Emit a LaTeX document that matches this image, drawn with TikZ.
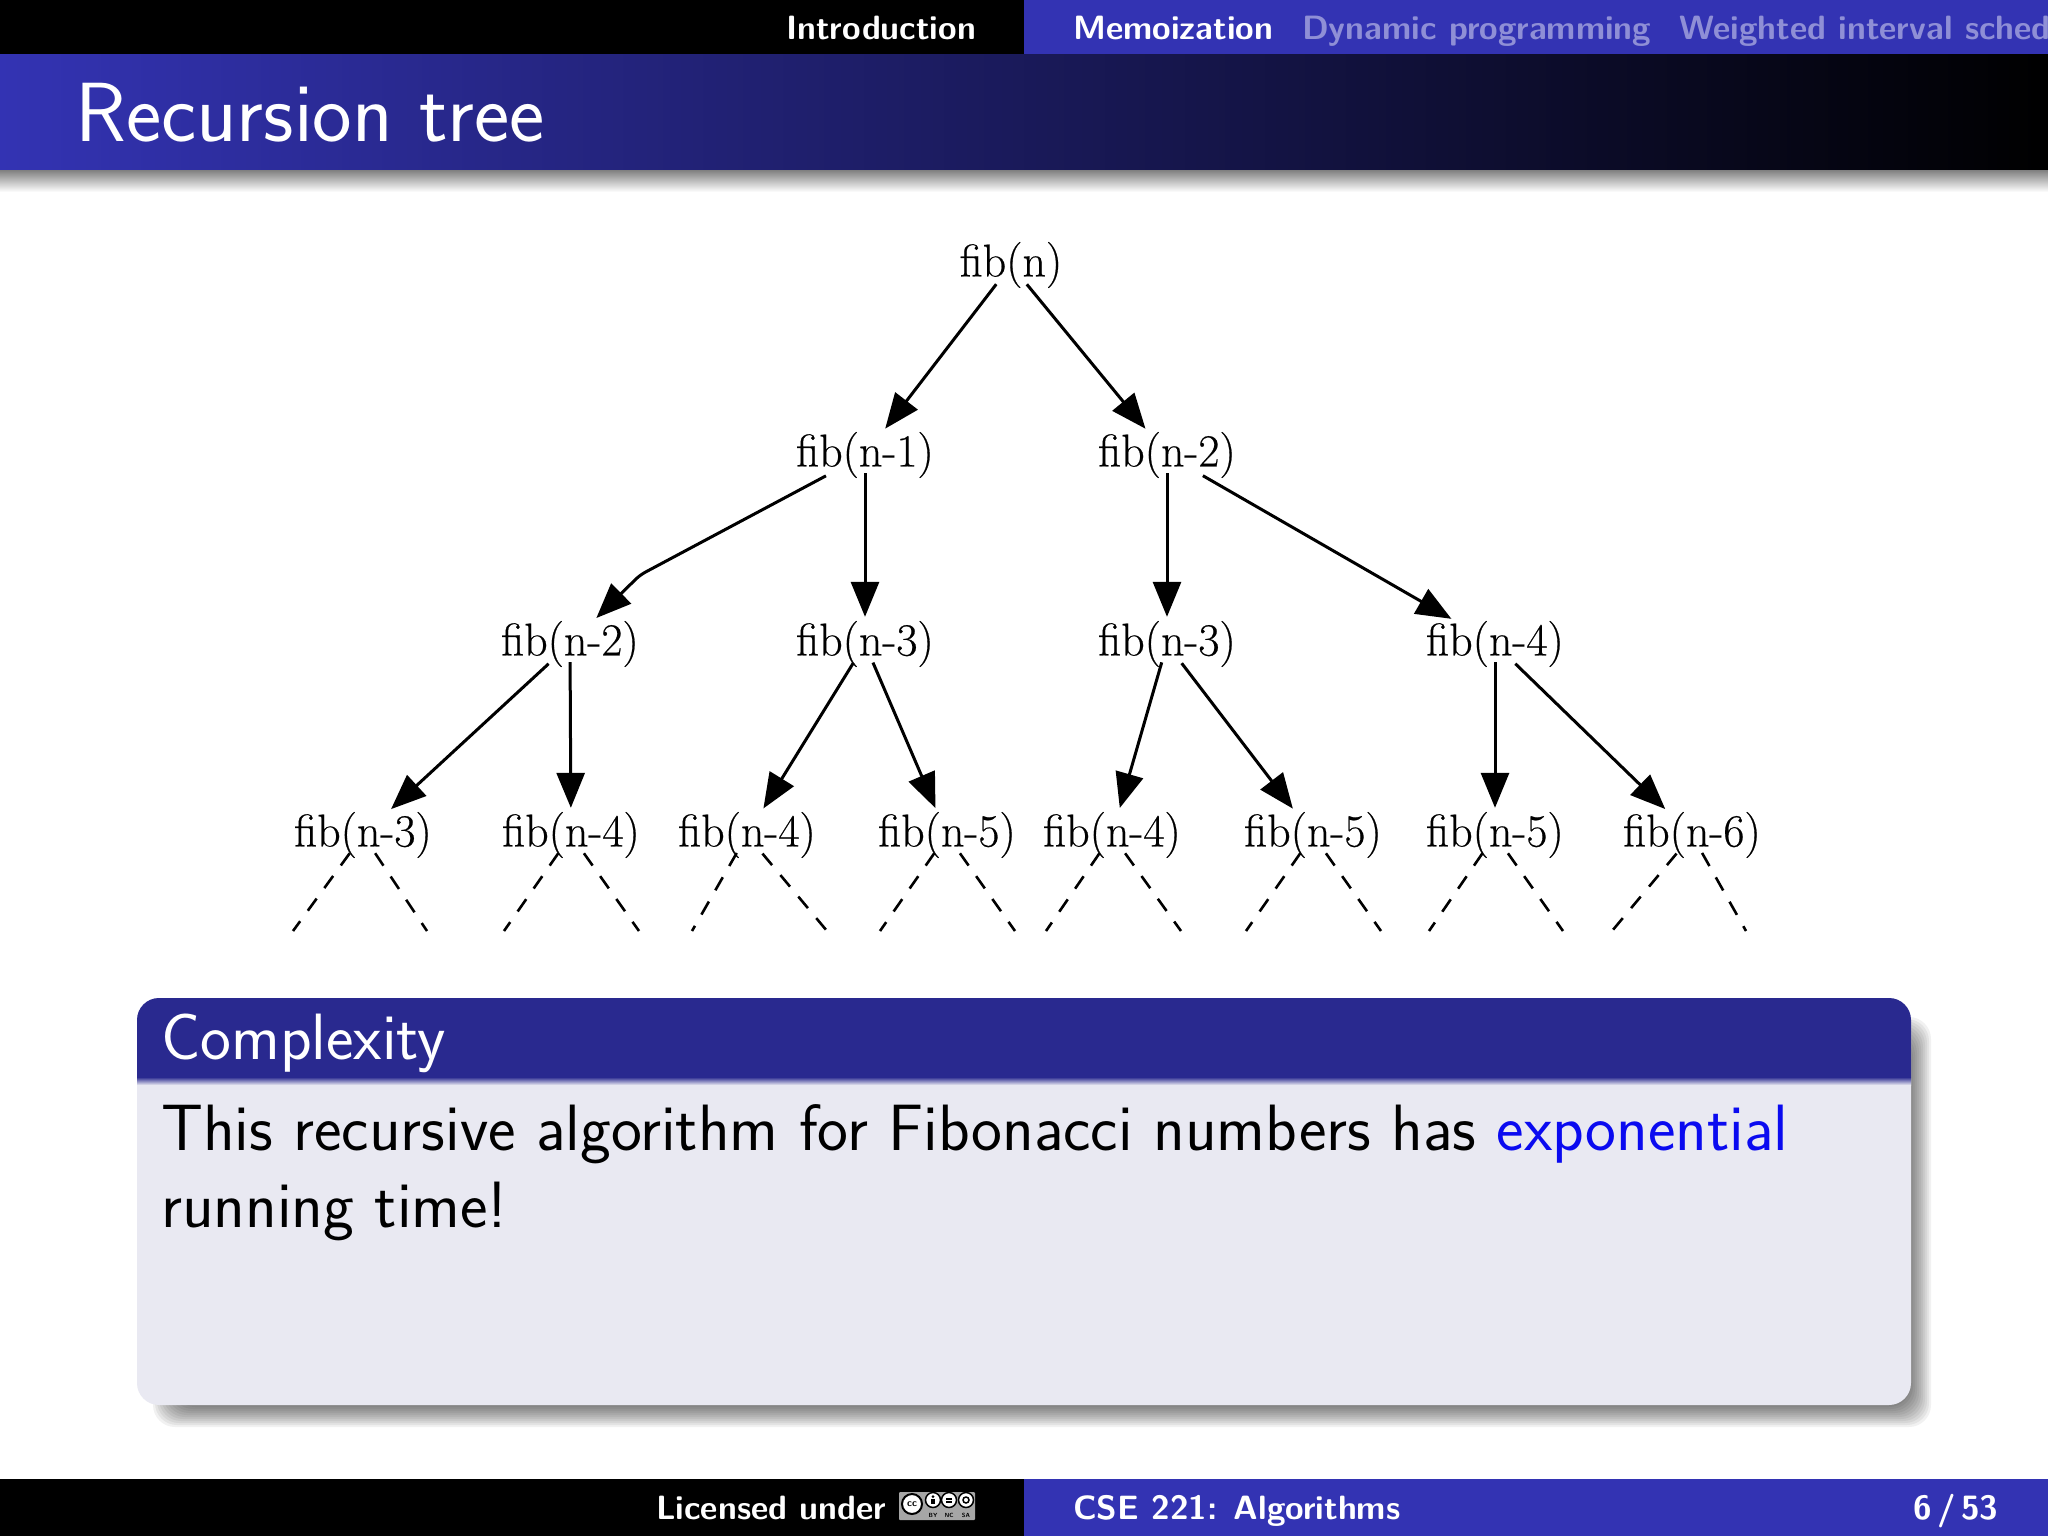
\documentclass[tikz,border=0pt]{standalone}
\usepackage{fontspec}
\usepackage{tikz}
\usepackage{xcolor}
\usetikzlibrary{
    arrows.meta,
    calc
}
\setmainfont{Latin Modern Roman}
\setsansfont{Latin Modern Sans}
\newfontfamily\fibfont[FakeBold=0.45]{Latin Modern Roman}
\definecolor{slideblue}{HTML}{3333B3}
\definecolor{blockblue}{HTML}{29298F}
\definecolor{blockbody}{HTML}{E9E9F2}
\definecolor{navdim}{HTML}{8F8FD6}
\definecolor{linkblue}{HTML}{0A0AF0}
\tikzset{
    fibnode/.style={inner sep=0pt, minimum width=136pt, minimum height=40pt, font=\fibfont\fontsize{46}{46}\selectfont},
    calltip/.style={line width=3pt, -{Triangle[length=35pt, width=28pt]}, shorten >=4pt, shorten <=-5pt},
    stub/.style={line width=2.6pt, dash pattern=on 15pt off 13pt, shorten <=-6pt},
    navtext/.style={inner sep=0pt, anchor=base west, text=white, font=\sffamily\bfseries\fontsize{33.7}{33.7}\selectfont},
    cclabel/.style={inner sep=0pt, text=black, font=\sffamily\bfseries\fontsize{6}{6}\selectfont},
    ccring/.style={draw=black, fill=white, circle, line width=1.5pt, inner sep=0pt, minimum size=15pt},
    bodytext/.style={inner sep=0pt, anchor=base west, align=left, font=\sffamily\fontsize{65.5}{77}\selectfont}
}
\begin{document}
\begin{tikzpicture}[x=1pt, y=-1pt]
    \useasboundingbox (0, 0) rectangle (2048, 1536);
    \clip (0, 0) rectangle (2048, 1536);
    \fill[white] (0, 0) rectangle (2048, 1536);
    \begin{scope}[shift={(0, 0)}]
        \fill[black] (0, 0) rectangle (1024, 55);
        \fill[slideblue] (1024, 0) rectangle (2048, 55);
        \shade[left color=slideblue, right color=black] (0, 55) rectangle (2048, 170);
        \shade[top color=black!50, bottom color=white] (0, 170) rectangle (2048, 192);
        \node[navtext] (navintro) at (786, 40) {Introduction};
        \node[navtext] (navmemo) at (1073, 40) {Memoization};
        \node[navtext, text=navdim] (navdyn) at (1302, 40) {Dynamic programming};
        \node[navtext, text=navdim] (navweight) at (1679, 40) {Weighted interval sched};
        \node[inner sep=0pt, anchor=base west, text=white, font=\sffamily\fontsize{84}{84}\selectfont] (slidetitle) at (75, 142) {Recursion tree};
    \end{scope}
    \node[fibnode] (root) at (1011, 265) {fib(n)};
    \node[fibnode] (fone) at (865, 455) {fib(n-1)};
    \node[fibnode] (ftwo) at (1167, 455) {fib(n-2)};
    \node[fibnode] (ftwoa) at (570, 644) {fib(n-2)};
    \node[fibnode] (fthreea) at (865, 644) {fib(n-3)};
    \node[fibnode] (fthreeb) at (1167, 644) {fib(n-3)};
    \node[fibnode] (ffourc) at (1495, 644) {fib(n-4)};
    \node[fibnode] (leafa) at (363, 835) {fib(n-3)};
    \node[fibnode] (leafb) at (571, 835) {fib(n-4)};
    \node[fibnode] (leafc) at (747, 835) {fib(n-4)};
    \node[fibnode] (leafd) at (947, 835) {fib(n-5)};
    \node[fibnode] (leafe) at (1112, 835) {fib(n-4)};
    \node[fibnode] (leaff) at (1313, 835) {fib(n-5)};
    \node[fibnode] (leafg) at (1495, 835) {fib(n-5)};
    \node[fibnode] (leafh) at (1692, 835) {fib(n-6)};
    \coordinate (bendone) at (640, 575);
    \draw[calltip] (root) -- (fone);
    \draw[calltip] (root) -- (ftwo);
    \draw[calltip, rounded corners=6pt] (fone) -- (bendone) -- (ftwoa);
    \draw[calltip] (fone) -- (fthreea);
    \draw[calltip] (ftwo) -- (fthreeb);
    \draw[calltip] (ftwo) -- (ffourc);
    \draw[calltip] (ftwoa) -- (leafa);
    \draw[calltip] (ftwoa) -- (leafb);
    \draw[calltip] (fthreea) -- (leafc);
    \draw[calltip] (fthreea) -- (leafd);
    \draw[calltip] (fthreeb) -- (leafe);
    \draw[calltip] (fthreeb) -- (leaff);
    \draw[calltip] (ffourc) -- (leafg);
    \draw[calltip] (ffourc) -- (leafh);
    \coordinate (enda) at (293, 931);
    \coordinate (endb) at (427, 931);
    \coordinate (endc) at (504, 931);
    \coordinate (endd) at (639, 931);
    \coordinate (ende) at (692, 931);
    \coordinate (endf) at (827, 931);
    \coordinate (endg) at (880, 931);
    \coordinate (endh) at (1015, 931);
    \coordinate (endi) at (1046, 931);
    \coordinate (endj) at (1181, 931);
    \coordinate (endk) at (1246, 931);
    \coordinate (endl) at (1381, 931);
    \coordinate (endm) at (1429, 931);
    \coordinate (endn) at (1563, 931);
    \coordinate (endo) at (1612, 931);
    \coordinate (endp) at (1746, 931);
    \draw[stub] (leafa) -- (enda);
    \draw[stub] (leafa) -- (endb);
    \draw[stub] (leafb) -- (endc);
    \draw[stub] (leafb) -- (endd);
    \draw[stub] (leafc) -- (ende);
    \draw[stub] (leafc) -- (endf);
    \draw[stub] (leafd) -- (endg);
    \draw[stub] (leafd) -- (endh);
    \draw[stub] (leafe) -- (endi);
    \draw[stub] (leafe) -- (endj);
    \draw[stub] (leaff) -- (endk);
    \draw[stub] (leaff) -- (endl);
    \draw[stub] (leafg) -- (endm);
    \draw[stub] (leafg) -- (endn);
    \draw[stub] (leafh) -- (endo);
    \draw[stub] (leafh) -- (endp);
    \begin{scope}[shift={(137, 998)}]
        \foreach \grow in {11, 9, 7, 5, 3, 1, -1, -3, -5, -7, -9} {
            \fill[black, opacity=0.055, rounded corners=22pt] (27-\grow, 30-\grow) rectangle (1783+\grow, 418+\grow);
        }
        \fill[blockbody, rounded corners=22pt] (0, 0) rectangle (1774, 407);
        \fill[blockblue] (0, 79) {[rounded corners=22pt] -- (0, 0) -- (1774, 0)} -- (1774, 79) -- cycle;
        \shade[top color=blockblue, bottom color=blockbody] (0, 79) rectangle (1774, 87);
        \node[inner sep=0pt, anchor=base west, text=white, font=\sffamily\fontsize{65.5}{65.5}\selectfont] (blocktitle) at (24, 61) {Complexity};
        \node[bodytext] (blockbodytext) at (24, 229) {This recursive algorithm for Fibonacci numbers has \textcolor{linkblue}{exponential}\\running time!};
    \end{scope}
    \begin{scope}[shift={(0, 1479)}]
        \fill[black] (0, 0) rectangle (1024, 57);
        \fill[slideblue] (1024, 0) rectangle (2048, 57);
        \node[navtext] (license) at (656, 40) {Licensed under};
        \node[navtext] (course) at (1073, 40) {CSE 221: Algorithms};
        \node[navtext] (pagenum) at (1913, 40) {\spaceskip=0.16em\relax 6 / 53};
        \fill[black!35, rounded corners=1pt] (899, 13) rectangle (975, 41);
        \node[draw=black, fill=white, circle, line width=2pt, inner sep=0pt, minimum size=20pt, font=\sffamily\bfseries\fontsize{10}{10}\selectfont] (ccicon) at (912, 25) {cc};
        \node[ccring] (byicon) at (933, 21) {};
        \node[ccring] (ncicon) at (949, 21) {};
        \node[ccring] (saicon) at (966, 21) {};
        \fill[black] (933, 17.5) circle (1.5pt);
        \fill[black] (931, 20) rectangle (935, 25);
        \fill[black] (946, 19) rectangle (952, 20.5);
        \fill[black] (946, 22) rectangle (952, 23.5);
        \draw[black, line width=1.5pt] (966, 21) circle (3pt);
        \node[cclabel] (bylabel) at (933, 36) {BY};
        \node[cclabel] (nclabel) at (949, 36) {NC};
        \node[cclabel] (salabel) at (966, 36) {SA};
    \end{scope}
\end{tikzpicture}
\end{document}
